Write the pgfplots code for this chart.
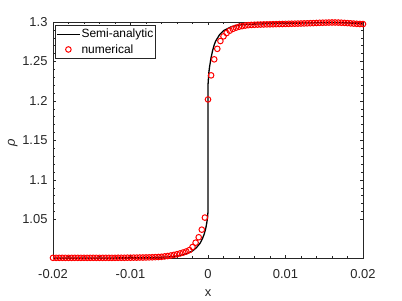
\documentclass[border=0pt]{standalone}
\usepackage{pgfplots}
\pgfplotsset{compat=1.18}
\usepackage{fontspec}
\setmainfont{Liberation Sans}
\definecolor{axgray}{rgb}{0.15,0.15,0.15}
\pgfplotsset{
  leglineimg/.style={legend image code/.code={\draw[##1] (0bp,0bp) -- (23bp,0bp);}},
  legmarkimg/.style={legend image code/.code={\draw[mark repeat=2,mark phase=2,##1] plot coordinates {(0bp,0bp) (11.5bp,0bp) (23bp,0bp)};}},
}
\begin{document}
\begin{tikzpicture}
\begin{axis}[
  scale only axis, width=310bp, height=236bp,
  xmin=-0.02, xmax=0.02, ymin=1.001, ymax=1.3,
  scaled x ticks=false, scaled y ticks=false,
  xtick={-0.02,-0.01,0,0.01,0.02},
  xticklabels={-0.02,-0.01,0,0.01,0.02},
  ytick={1.05,1.1,1.15,1.2,1.25,1.3},
  yticklabels={1.05,1.1,1.15,1.2,1.25,1.3},
  minor x tick num=4, minor y tick num=4,
  tick align=inside, major tick length=3bp, minor tick length=2bp,
  axis line style={axgray, line width=0.5bp},
  every tick/.style={axgray, line width=0.5bp},
  ticklabel style={font=\fontsize{13}{15}\selectfont, text=axgray},
  yticklabel style={xshift=-2bp},
  xticklabel style={yshift=-8bp},
  xlabel={x}, ylabel={\itshape ρ},
  label style={font=\fontsize{13}{15}\selectfont, text=axgray},
  xlabel style={at={(axis description cs:0.5,-0.148)}, anchor=center},
  ylabel style={at={(axis description cs:-0.13,0.49)}, anchor=center},
  legend style={at={(axis description cs:0,1)}, anchor=north west, xshift=2bp, yshift=-3bp,
    draw=axgray, line width=0.5bp, fill=white, font=\fontsize{12}{14}\selectfont,
    inner xsep=1bp, inner ysep=2bp, row sep=1bp, nodes={inner xsep=1bp}},
  legend cell align=left,
]
\addplot[black, line width=1.3bp, leglineimg] coordinates {
(-0.02,1.0010) (-0.015,1.0010) (-0.01,1.0012) (-0.008,1.0015) (-0.006,1.0020)
(-0.005,1.0025) (-0.004,1.0035) (-0.003,1.0055) (-0.0025,1.0075) (-0.002,1.0100)
(-0.0015,1.0140) (-0.001,1.0200) (-0.0007,1.0260) (-0.0005,1.0310) (-0.0003,1.0380)
(-0.00015,1.0460) (-0.00005,1.0530) (0,1.0600) (0,1.1400) (0,1.2200)
(0.0001,1.2350) (0.0002,1.2430) (0.0004,1.2550) (0.0006,1.2640) (0.0008,1.2710)
(0.001,1.2760) (0.0015,1.2840) (0.002,1.2890) (0.003,1.2940) (0.004,1.2962)
(0.005,1.2970) (0.007,1.2976) (0.01,1.2982) (0.013,1.2988) (0.016,1.2993)
(0.018,1.2988) (0.02,1.2975)
};
\addlegendentry{Semi-analytic}
\addplot[only marks, mark=o, red, mark size=2.8bp, line width=1bp, legmarkimg] coordinates {
(-0.0200,1.0012) (-0.0196,1.0012) (-0.0192,1.0012) (-0.0188,1.0012) (-0.0184,1.0012)
(-0.0180,1.0012) (-0.0176,1.0012) (-0.0172,1.0012) (-0.0168,1.0012) (-0.0164,1.0012)
(-0.0160,1.0012) (-0.0156,1.0012) (-0.0152,1.0012) (-0.0148,1.0012) (-0.0144,1.0012)
(-0.0140,1.0012) (-0.0136,1.0012) (-0.0132,1.0012) (-0.0128,1.0012) (-0.0124,1.0012)
(-0.0120,1.0012) (-0.0116,1.0013) (-0.0112,1.0013) (-0.0108,1.0013) (-0.0104,1.0014)
(-0.0100,1.0014) (-0.0096,1.0015) (-0.0092,1.0015) (-0.0088,1.0016) (-0.0084,1.0016)
(-0.0080,1.0017) (-0.0076,1.0018) (-0.0072,1.0019) (-0.0068,1.0021) (-0.0064,1.0023)
(-0.0060,1.0025) (-0.0056,1.0030) (-0.0052,1.0035) (-0.0048,1.0042) (-0.0044,1.0050)
(-0.0040,1.0058) (-0.0036,1.0068) (-0.0032,1.0080) (-0.0028,1.0093) (-0.0024,1.0110)
(-0.0020,1.0149) (-0.0016,1.0204) (-0.0012,1.0273) (-0.0008,1.0369) (-0.0004,1.0522)
(0.0000,1.2019) (0.0004,1.2324) (0.0008,1.2527) (0.0012,1.2660) (0.0016,1.2759)
(0.0020,1.2818) (0.0024,1.2860) (0.0028,1.2890) (0.0032,1.2912) (0.0036,1.2928)
(0.0040,1.2940) (0.0044,1.2948) (0.0048,1.2955) (0.0052,1.2960) (0.0056,1.2963)
(0.0060,1.2965) (0.0064,1.2967) (0.0068,1.2968) (0.0072,1.2969) (0.0076,1.2970)
(0.0080,1.2971) (0.0084,1.2972) (0.0088,1.2973) (0.0092,1.2974) (0.0096,1.2975)
(0.0100,1.2976) (0.0104,1.2977) (0.0108,1.2978) (0.0112,1.2979) (0.0116,1.2980)
(0.0120,1.2981) (0.0124,1.2982) (0.0128,1.2983) (0.0132,1.2985) (0.0136,1.2986)
(0.0140,1.2988) (0.0144,1.2990) (0.0148,1.2991) (0.0152,1.2992) (0.0156,1.2993)
(0.0160,1.2994) (0.0164,1.2994) (0.0168,1.2993) (0.0172,1.2991) (0.0176,1.2989)
(0.0180,1.2986) (0.0184,1.2983) (0.0188,1.2980) (0.0192,1.2977) (0.0196,1.2975)
(0.0200,1.2974)
};
\addlegendentry{numerical}
\end{axis}
\pgfresetboundingbox
\path (current axis.south west) ++(-53bp,-43bp) rectangle ++(402bp,301bp);
\end{tikzpicture}
\end{document}
